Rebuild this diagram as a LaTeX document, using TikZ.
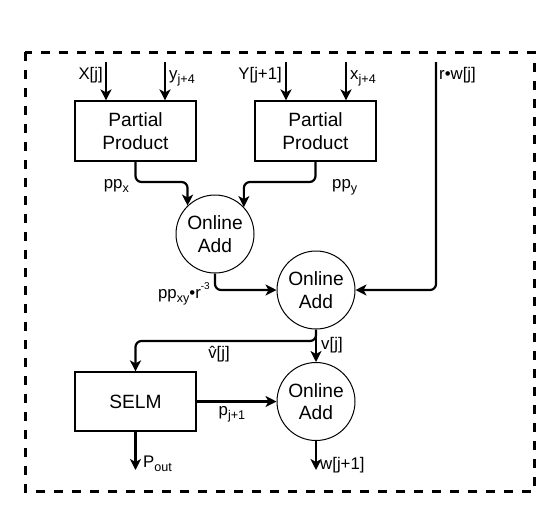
\documentclass[tikz,border=0pt]{standalone}
\usepackage{fontspec}
\setmainfont{Liberation Sans}
\usetikzlibrary{arrows.meta}
\newcommand\mysub[1]{\raisebox{-0.28em}{\fontsize{12.6}{14}\selectfont #1}}
\newcommand\mysup[1]{\raisebox{0.5em}{\fontsize{10}{12}\selectfont #1}}
\begin{document}
\begin{tikzpicture}[x=1pt,y=-1pt,
 box/.style={draw, line width=1.2pt, minimum width=121pt, minimum height=60pt, inner sep=0pt, align=center, font=\fontsize{19.2}{23.5}\selectfont},
 adder/.style={draw, circle, line width=1pt, minimum size=78pt, inner sep=0pt, align=center, font=\fontsize{19.2}{22.5}\selectfont},
 lbl/.style={font=\fontsize{16.8}{19}\selectfont, inner sep=0pt},
 wire/.style={line width=2.2pt, -{Stealth[length=11pt 0,width=11pt 0,inset=3pt 0]}, rounded corners=6pt},
 frame/.style={line width=3pt, dash pattern=on 9pt off 9pt},
]
\useasboundingbox (0,0) rectangle (537,515);
\draw[frame] (25,52) rectangle (534.5,491);

\node[box] (pp1) at (135.5,131) {Partial\\Product};
\node[box] (pp2) at (315.5,131) {Partial\\Product};
\node[adder] (oa1) at (215,234) {Online\\Add};
\node[adder] (oa2) at (316,290) {Online\\Add};
\node[adder] (oa3) at (316,401.5) {Online\\Add};
\node[box, minimum height=59pt] (selm) at (135.5,401.5) {SELM};

\coordinate (inX) at (106,62);
\coordinate (inYa) at (165,62);
\coordinate (inYb) at (286,62);
\coordinate (inXb) at (346,62);
\coordinate (inrw) at (436,62);
\coordinate (k1) at (0,182);
\coordinate (br) at (0,341);
\coordinate (pout) at (135.5,470);
\coordinate (wout) at (316,470);

\draw[wire] (inX) -- (inX |- pp1.north);
\draw[wire] (inYa) -- (inYa |- pp1.north);
\draw[wire] (inYb) -- (inYb |- pp2.north);
\draw[wire] (inXb) -- (inXb |- pp2.north);

\draw[wire] (pp1.south) |- (oa1.134 |- k1) -- (oa1.134);
\draw[wire] (pp2.south) |- (oa1.43 |- k1) -- (oa1.43);
\draw[wire] (oa1.south) |- (oa2.west);
\draw[wire] (inrw) |- (oa2.east);
\draw[wire] (oa2.south) -- (oa3.north);
\draw[wire] (oa2.south) |- (selm.north |- br) -- (selm.north);
\draw[wire] (selm.east) -- (oa3.west);
\draw[wire] (selm.south) -- (pout);
\draw[wire] (oa3.south) -- (wout);

\node[lbl, anchor=base east] (lX) at (103,79) {X[j]};
\node[lbl, anchor=base west] (lYa) at (169,79) {y\mysub{j+4}};
\node[lbl, anchor=base east] (lYb) at (282,79) {Y[j+1]};
\node[lbl, anchor=base west] (lXb) at (350,79) {x\mysub{j+4}};
\node[lbl, anchor=base west] (lrw) at (439,79) {r•w[j]};
\node[lbl, anchor=base east] (lppx) at (129,188) {pp\mysub{x}};
\node[lbl, anchor=base west] (lppy) at (332,188) {pp\mysub{y}};
\node[lbl, anchor=base east] (lppxy) at (210,298) {pp\mysub{xy}•r\mysup{-3}};
\node[lbl, anchor=base west] (lv) at (321,349) {v[j]};
\node[lbl, anchor=base] (lvh) at (219,358) {v̂[j]};
\node[lbl, anchor=base] (lp) at (232,415) {p\mysub{j+1}};
\node[lbl, anchor=base west] (lpout) at (143,467) {P\mysub{out}};
\node[lbl, anchor=base west] (lw) at (320,469) {w[j+1]};
\end{tikzpicture}
\end{document}
